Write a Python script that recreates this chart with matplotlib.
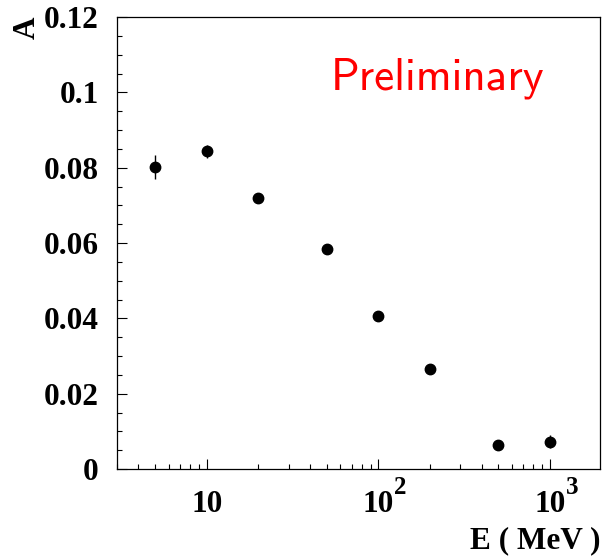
import matplotlib
matplotlib.use("Agg")
import matplotlib.pyplot as plt
from matplotlib.ticker import MultipleLocator, LogLocator, FixedLocator, FixedFormatter, NullFormatter
import matplotlib.transforms as mtransforms

# Data
energy = [5, 10, 20, 50, 100, 200, 500, 1000]
asym = [0.0802, 0.0843, 0.0719, 0.0583, 0.0405, 0.0265, 0.0064, 0.0073]
asym_err = [0.0032, 0.0017, 0.0005, 0.0005, 0.0005, 0.0005, 0.0012, 0.0018]
xtick_vals = [10, 100, 1000]
xtick_base = ["10", "10", "10"]
xtick_exp = ["", "2", "3"]
ytick_vals = [0, 0.02, 0.04, 0.06, 0.08, 0.1, 0.12]
ytick_labels = ["0", "0.02", "0.04", "0.06", "0.08", "0.1", "0.12"]

W, H = 602, 559
fig = plt.figure(figsize=(W / 100, H / 100), dpi=100)
ax = fig.add_axes([117 / W, 1 - 469 / H, (600 - 117) / W, (469 - 17) / H])

ax.errorbar(energy, asym, yerr=asym_err, fmt="o", color="black", ms=7.5,
            elinewidth=1.0, capsize=0)

ax.set_xscale("log")
ax.set_xlim(3.0, 1955)
ax.set_ylim(0, 0.12)

FS = 22.5
tick_font = dict(family="Liberation Serif", weight="bold", size=FS)

ax.yaxis.set_major_locator(FixedLocator(ytick_vals))
ax.yaxis.set_major_formatter(FixedFormatter(ytick_labels))
ax.yaxis.set_minor_locator(MultipleLocator(0.005))
ax.xaxis.set_major_locator(FixedLocator(xtick_vals))
ax.xaxis.set_major_formatter(FixedFormatter(xtick_base))
ax.xaxis.set_minor_locator(LogLocator(base=10, subs=[2, 3, 4, 5, 6, 7, 8, 9]))
ax.xaxis.set_minor_formatter(NullFormatter())

ax.tick_params(which="both", direction="in", top=False, right=False, width=0.8)
ax.tick_params(which="major", length=7.2)
ax.tick_params(which="minor", length=3.6)
ax.tick_params(axis="y", which="major", pad=13)
ax.tick_params(axis="x", which="major", pad=15)
for lab in ax.get_xticklabels() + ax.get_yticklabels():
    lab.set_fontfamily("Liberation Serif")
    lab.set_fontweight("bold")
    lab.set_fontsize(FS)
for sp in ax.spines.values():
    sp.set_linewidth(0.9)

# exponents on x tick labels
trans = mtransforms.blended_transform_factory(ax.transData, fig.transFigure)
for v, e in zip(xtick_vals, xtick_exp):
    if e:
        off = mtransforms.offset_copy(trans, fig=fig, x=16, y=0, units="dots")
        ax.text(v, 1 - 487 / H, e, transform=off, ha="left", va="center",
                fontfamily="Liberation Serif", fontweight="bold", fontsize=18)

fig.text(600 / W, 1 - 541 / H, "E ( MeV )", ha="right", va="center", **tick_font)
fig.text(27 / W, 1 - 28 / H, "A", ha="center", va="center", rotation=90, **tick_font)
fig.text(331 / W, 1 - 90 / H, "Preliminary", ha="left", va="baseline",
         color="red", fontfamily="cmss10", fontsize=32.5)

fig.savefig("out.png", dpi=100)
